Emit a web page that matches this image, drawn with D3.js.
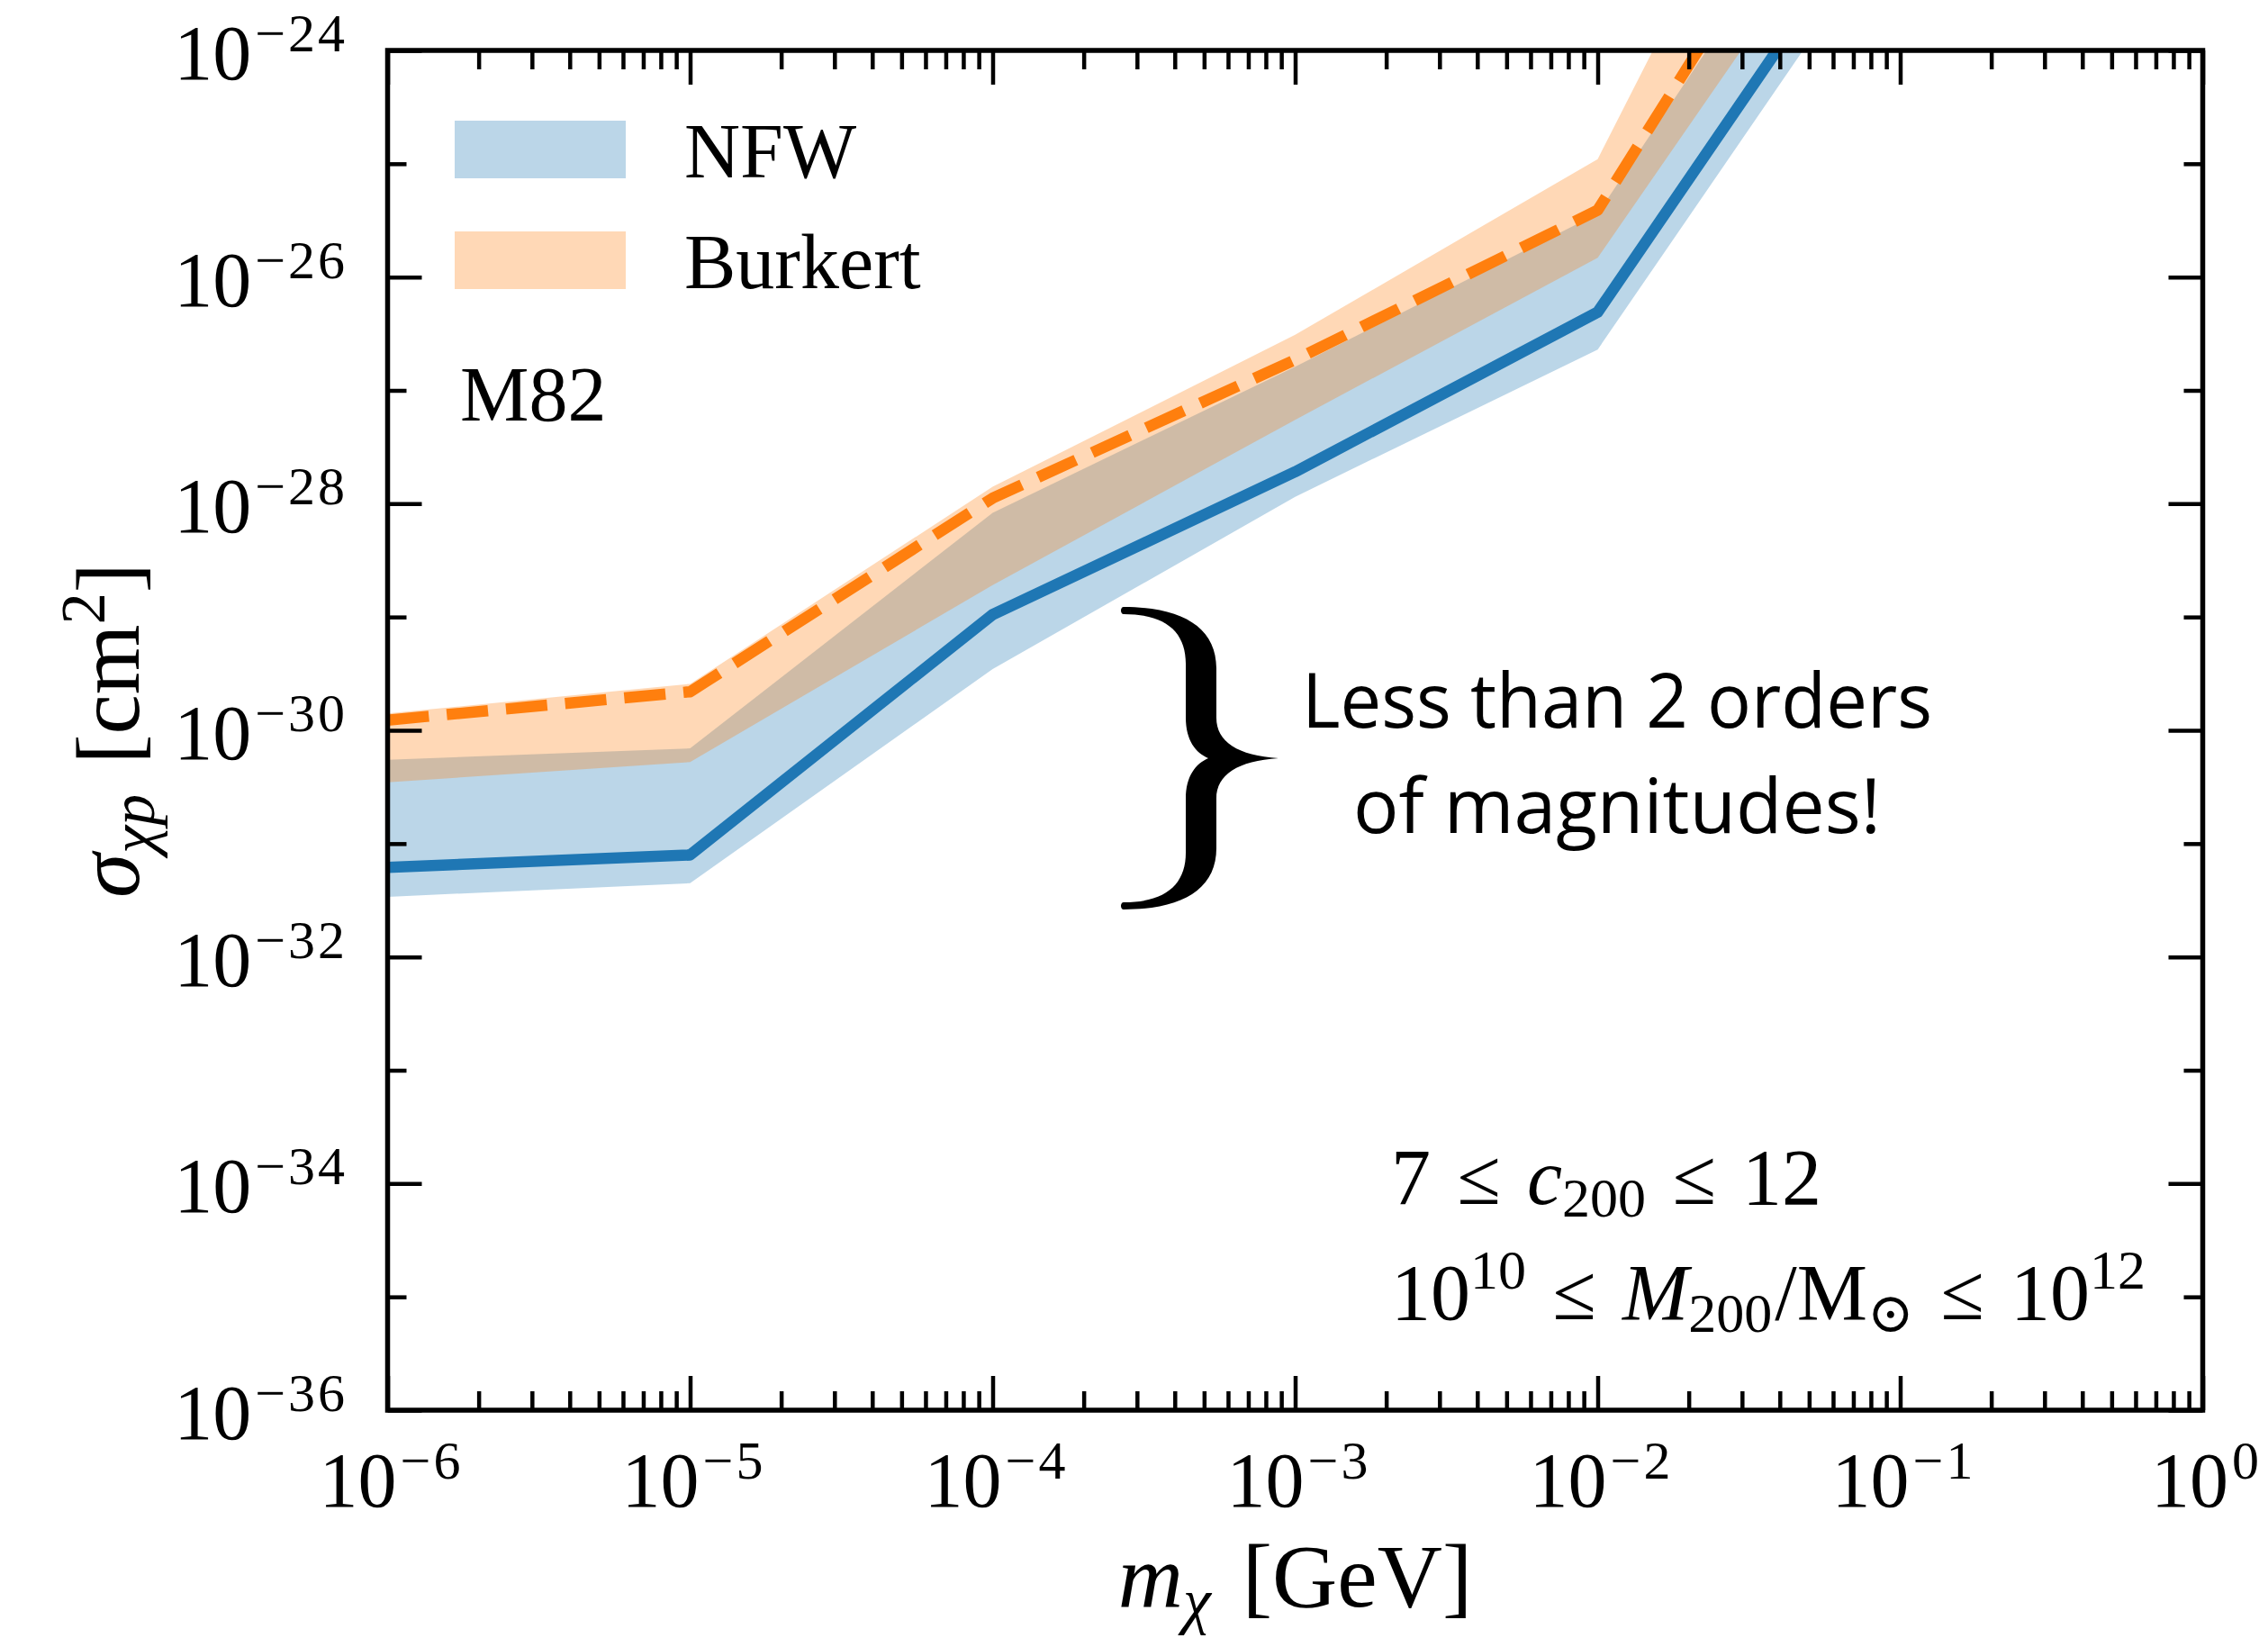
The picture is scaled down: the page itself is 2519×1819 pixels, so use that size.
<!DOCTYPE html>
<html>
<head>
<meta charset="utf-8">
<script src="https://cdn.jsdelivr.net/npm/d3@7"></script>
<style>
  html, body { margin: 0; padding: 0; background: #ffffff; }
  svg { display: block; }
</style>
</head>
<body>
<svg id="chart" width="2519" height="1819"></svg>
<script>
// Dark-matter mass grid [GeV]
const massGeV = [1e-6, 1e-5, 1e-4, 1e-3, 1e-2, 1e-1];

// NFW profile: central bound and band edges on sigma_chi-p [cm^2]
const nfwCentral = [6.17e-32, 7.94e-32, 1.05e-29, 1.91e-28, 4.90e-27, 3.89e-23];
const nfwLow     = [3.39e-32, 4.47e-32, 3.47e-30, 1.15e-28, 2.29e-27, 1.78e-23];
const nfwHigh    = [5.50e-31, 6.92e-31, 8.32e-29, 1.62e-27, 3.63e-26, 3.63e-22];

// Burkert profile: central bound and band edges
const burCentral = [1.23e-30, 2.19e-30, 1.12e-28, 1.86e-27, 3.89e-26, 6.92e-22];
const burLow     = [3.47e-31, 5.25e-31, 1.91e-29, 5.50e-28, 1.48e-26, 1.07e-22];
const burHigh    = [1.41e-30, 2.57e-30, 1.41e-28, 3.09e-27, 1.10e-25, 1.95e-20];

// Axis tick exponents
const xTickExponents = [-6, -5, -4, -3, -2, -1, 0];
const yTickExponents = [-36, -34, -32, -30, -28, -26, -24];
const yMinorExponents = [-35, -33, -31, -29, -27, -25];

const legendLabels = ["NFW", "Burkert"];
const galaxyName = "M82";

(function () {
  // ---- layout ----
  const W = 2519, H = 1819;
  const pL = 430.5, pR = 2446.5, pT = 56, pB = 1566;
  const blue = "#1f77b4", orange = "#ff7f0e";
  const serif = "'Liberation Serif', 'DejaVu Serif', serif";

  const svg = d3.select("#chart");
  svg.append("rect").attr("width", W).attr("height", H).attr("fill", "#fff");

  const x = d3.scaleLog().domain([1e-6, 1]).range([pL, pR]);
  const y = d3.scaleLog().domain([1e-36, 1e-24]).range([pB, pT]);

  svg.append("defs").append("clipPath").attr("id", "plotClip")
    .append("rect").attr("x", pL).attr("y", pT)
    .attr("width", pR - pL).attr("height", pB - pT);

  const rows = (lo, mid, hi) => massGeV.map((m, i) => ({ m, lo: lo[i], mid: mid[i], hi: hi[i] }));
  const nfw = rows(nfwLow, nfwCentral, nfwHigh);
  const bur = rows(burLow, burCentral, burHigh);

  const band = d3.area().x(d => x(d.m)).y0(d => y(d.lo)).y1(d => y(d.hi));
  const curve = d3.line().x(d => x(d.m)).y(d => y(d.mid));

  const plot = svg.append("g").attr("clip-path", "url(#plotClip)");
  plot.append("path").datum(nfw).attr("d", band).attr("fill", blue).attr("fill-opacity", 0.3);
  plot.append("path").datum(bur).attr("d", band).attr("fill", orange).attr("fill-opacity", 0.3);
  plot.append("path").datum(nfw).attr("d", curve).attr("fill", "none")
    .attr("stroke", blue).attr("stroke-width", 12.5).attr("stroke-linejoin", "round");
  plot.append("path").datum(bur).attr("d", curve).attr("fill", "none")
    .attr("stroke", orange).attr("stroke-width", 12.5)
    .attr("stroke-dasharray", "46,20").attr("stroke-linejoin", "round");

  // ---- ticks (inward, on all four sides) ----
  const majorX = xTickExponents.map(e => Math.pow(10, e));
  const minorX = [];
  xTickExponents.slice(0, -1).forEach(e => {
    for (let k = 2; k <= 9; k++) minorX.push(k * Math.pow(10, e));
  });
  const majorY = yTickExponents.map(e => Math.pow(10, e));
  const minorY = yMinorExponents.map(e => Math.pow(10, e));

  const MAJ = 38, MIN = 21, TW = 4.5;
  function styleAxis(sel) {
    sel.select(".domain").remove();
    sel.selectAll(".tick line").attr("stroke", "#000").attr("stroke-width", TW);
    sel.selectAll(".tick text").remove();
  }
  const axes = svg.append("g");
  [[majorX, MAJ], [minorX, MIN]].forEach(([vals, len]) => {
    axes.append("g").attr("transform", `translate(0,${pB})`)
      .call(d3.axisBottom(x).tickValues(vals).tickSize(-len).tickFormat("")).call(styleAxis);
    axes.append("g").attr("transform", `translate(0,${pT})`)
      .call(d3.axisTop(x).tickValues(vals).tickSize(-len).tickFormat("")).call(styleAxis);
  });
  [[majorY, MAJ], [minorY, MIN]].forEach(([vals, len]) => {
    axes.append("g").attr("transform", `translate(${pL},0)`)
      .call(d3.axisLeft(y).tickValues(vals).tickSize(-len).tickFormat("")).call(styleAxis);
    axes.append("g").attr("transform", `translate(${pR},0)`)
      .call(d3.axisRight(y).tickValues(vals).tickSize(-len).tickFormat("")).call(styleAxis);
  });

  // ---- tick labels: 10^n ----
  function powerLabel(sel, exp) {
    sel.append("tspan").text("10");
    sel.append("tspan").attr("dx", 4).attr("dy", -31).attr("font-size", 60)
      .attr("letter-spacing", 3)
      .text(exp < 0 ? "\u2212" + Math.abs(exp) : String(exp));
  }
  xTickExponents.forEach(e => {
    const t = svg.append("text").attr("x", x(Math.pow(10, e)) + 4).attr("y", 1673)
      .attr("text-anchor", "middle").attr("font-family", serif).attr("font-size", 86);
    powerLabel(t, e);
  });
  yTickExponents.forEach(e => {
    const t = svg.append("text").attr("x", 386).attr("y", y(Math.pow(10, e)) + 32)
      .attr("text-anchor", "end").attr("font-family", serif).attr("font-size", 86);
    powerLabel(t, e);
  });

  // ---- axis titles ----
  const xl = svg.append("text").attr("x", (pL + pR) / 2).attr("y", 1784)
    .attr("text-anchor", "middle").attr("font-family", serif).attr("font-size", 100);
  xl.append("tspan").attr("font-style", "italic").text("m");
  xl.append("tspan").attr("font-style", "italic").attr("font-size", 70).attr("dy", 17).text("\u03c7");
  xl.append("tspan").attr("dy", -17).attr("dx", 10).text(" [GeV]");

  const yl = svg.append("text").attr("transform", `translate(154,${(pT + pB) / 2}) rotate(-90)`)
    .attr("text-anchor", "middle").attr("font-family", serif).attr("font-size", 100);
  yl.append("tspan").attr("font-style", "italic").text("\u03c3");
  yl.append("tspan").attr("font-style", "italic").attr("font-size", 70).attr("dy", 17).text("\u03c7p");
  yl.append("tspan").attr("dy", -17).attr("dx", 8).text(" [cm");
  yl.append("tspan").attr("font-size", 70).attr("dy", -38).text("2");
  yl.append("tspan").attr("dy", 38).text("]");

  // ---- legend ----
  const legendColors = [blue, orange];
  legendLabels.forEach((lab, i) => {
    const y0 = 134 + i * 123;
    svg.append("rect").attr("x", 505).attr("y", y0).attr("width", 190).attr("height", 64)
      .attr("fill", legendColors[i]).attr("fill-opacity", 0.3);
    svg.append("text").attr("x", 760).attr("y", y0 + 63)
      .attr("font-family", serif).attr("font-size", 86).text(lab);
  });
  svg.append("text").attr("x", 511).attr("y", 467)
    .attr("font-family", serif).attr("font-size", 86).text(galaxyName);

  // ---- parameter ranges ----
  const sp = "\u2004";
  const p1 = svg.append("text").attr("x", 1545).attr("y", 1337)
    .attr("font-family", serif).attr("font-size", 88);
  p1.append("tspan").text("7" + sp + "\u2264" + sp);
  p1.append("tspan").attr("font-style", "italic").text("c");
  p1.append("tspan").attr("font-size", 62).attr("dy", 14).text("200");
  p1.append("tspan").attr("dy", -14).text(sp + "\u2264" + sp + "12");

  const p2 = svg.append("text").attr("x", 1545).attr("y", 1465)
    .attr("font-family", serif).attr("font-size", 88);
  p2.append("tspan").text("10");
  p2.append("tspan").attr("font-size", 62).attr("dy", -34).text("10");
  p2.append("tspan").attr("dy", 34).text(sp + "\u2264" + sp);
  p2.append("tspan").attr("font-style", "italic").text("M");
  p2.append("tspan").attr("font-size", 62).attr("dy", 14).text("200");
  p2.append("tspan").attr("dy", -14).attr("dx", 3).text("/M");
  p2.append("tspan").attr("font-size", 62).attr("dy", 14).text("\u2299");
  p2.append("tspan").attr("dy", -14).text(sp + "\u2264" + sp + "10");
  p2.append("tspan").attr("font-size", 62).attr("dy", -34).text("12");

  // ---- brace annotation ----
  const braceG = svg.append("g").attr("transform", "translate(1420,842)");
  braceG.append("path").attr("fill", "#000").attr("d",
    "M -172,-168 C -108,-168 -69,-146 -69,-100 L -69,-45 C -69,-18 -45,-3 0,0 " +
    "C -45,3 -69,18 -69,45 L -69,100 C -69,146 -108,168 -172,168 " +
    "C -176,168 -176,160 -172,160 C -125,160 -103,140 -103,105 L -103,45 " +
    "C -103,20 -92,6 -78,0 C -92,-6 -103,-20 -103,-45 L -103,-105 " +
    "C -103,-140 -125,-160 -172,-160 C -176,-160 -176,-168 -172,-168 Z");

  const sans = "'Open Sans', 'Noto Sans', Lato, sans-serif";
  svg.append("text").attr("x", 1796).attr("y", 808).attr("text-anchor", "middle")
    .attr("font-family", sans).attr("font-weight", 400).attr("font-size", 84)
    .attr("textLength", 700).attr("lengthAdjust", "spacingAndGlyphs")
    .text("Less than 2 orders");
  svg.append("text").attr("x", 1796).attr("y", 925).attr("text-anchor", "middle")
    .attr("font-family", sans).attr("font-weight", 400).attr("font-size", 84)
    .attr("textLength", 586).attr("lengthAdjust", "spacingAndGlyphs")
    .text("of magnitudes!");

  // ---- frame ----
  svg.append("rect").attr("x", pL).attr("y", pT)
    .attr("width", pR - pL).attr("height", pB - pT)
    .attr("fill", "none").attr("stroke", "#000").attr("stroke-width", 5.5);
})();
</script>
</body>
</html>
